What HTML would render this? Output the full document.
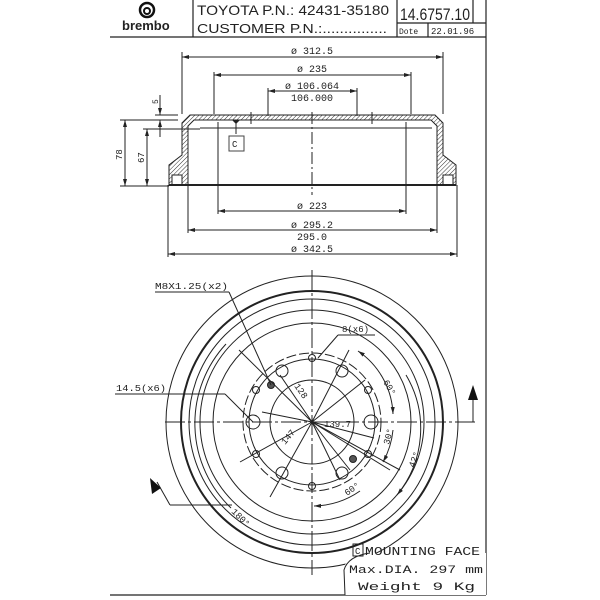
<!DOCTYPE html>
<html><head><style>
html,body{margin:0;padding:0;background:#fff;}
svg{display:block;}
text{font-family:"Liberation Mono","DejaVu Sans Mono",monospace;fill:#222;}
</style></head><body>
<svg width="600" height="600" viewBox="0 0 600 600" xmlns="http://www.w3.org/2000/svg">
<defs>
<pattern id="h" width="3" height="3" patternUnits="userSpaceOnUse" patternTransform="rotate(45)">
<line x1="0" y1="0" x2="0" y2="3" stroke="#333" stroke-width="1"/>
</pattern>
<marker id="a" markerWidth="8" markerHeight="6" refX="7" refY="3" orient="auto"><path d="M0,1 L7,3 L0,5 Z" fill="#222"/></marker>
<marker id="b" markerWidth="8" markerHeight="6" refX="1" refY="3" orient="auto"><path d="M8,1 L1,3 L8,5 Z" fill="#222"/></marker>
</defs>

<!-- header frame -->
<g stroke="#222" fill="none" stroke-width="1.2">
<line x1="110" y1="37" x2="486" y2="37"/>
<line x1="193" y1="0" x2="193" y2="37"/>
<line x1="397" y1="0" x2="397" y2="37"/>
<line x1="473" y1="0" x2="473" y2="23"/>
<line x1="397" y1="23" x2="486" y2="23"/>
<line x1="428" y1="23" x2="428" y2="37"/>
<line x1="486" y1="0" x2="486" y2="595"/>
<line x1="110" y1="595" x2="486" y2="595"/>
</g>
<circle cx="147" cy="10" r="7" fill="none" stroke="#111" stroke-width="2.5"/>
<circle cx="147" cy="11" r="3" fill="none" stroke="#111" stroke-width="2"/>
<text x="122" y="30" font-weight="bold" font-size="13" style="font-family:'Liberation Sans',sans-serif">brembo</text>
<text x="197" y="15" font-size="14" textLength="192" lengthAdjust="spacingAndGlyphs" style="font-family:'Liberation Sans',sans-serif">TOYOTA P.N.: 42431-35180</text>
<text x="197" y="33" font-size="13" textLength="190" lengthAdjust="spacingAndGlyphs" style="font-family:'Liberation Sans',sans-serif">CUSTOMER P.N.:...............</text>
<text x="400" y="20" font-size="17" textLength="70" lengthAdjust="spacingAndGlyphs" style="font-family:'Liberation Sans',sans-serif">14.6757.10</text>
<text x="399" y="34" font-size="8">Dote</text>
<text x="431" y="34" font-size="9">22.01.96</text>

<!-- section view -->
<path d="M190,115 L435,115 L443,123 L443,155 L456,165 L456,185 L437,185 L437,126 L431,120 L194,120 L188,126 L188,185 L169,185 L169,165 L182,155 L182,123 Z" fill="url(#h)" stroke="#222" stroke-width="1"/>
<rect x="172" y="175" width="10" height="10" fill="#fff" stroke="#222"/>
<rect x="443" y="175" width="10" height="10" fill="#fff" stroke="#222"/>
<g stroke="#222" fill="none" stroke-width="1">
<line x1="169" y1="185" x2="456" y2="185" stroke-width="2"/>
<line x1="218" y1="122" x2="218" y2="214"/>
<line x1="406" y1="122" x2="406" y2="214"/>
<line x1="200" y1="128" x2="432" y2="128"/>
<line x1="312" y1="112" x2="312" y2="195" stroke-dasharray="12,3,2,3"/>
<line x1="251" y1="112" x2="251" y2="124"/><line x1="372" y1="112" x2="372" y2="124"/>
<line x1="182" y1="52" x2="182" y2="114"/><line x1="443" y1="52" x2="443" y2="114"/>
<line x1="182" y1="57" x2="443" y2="57" marker-start="url(#b)" marker-end="url(#a)"/>
<line x1="214" y1="72" x2="214" y2="114"/><line x1="411" y1="72" x2="411" y2="114"/>
<line x1="214" y1="75" x2="411" y2="75" marker-start="url(#b)" marker-end="url(#a)"/>
<line x1="268" y1="88" x2="268" y2="116"/><line x1="357" y1="88" x2="357" y2="116"/>
<line x1="268" y1="91" x2="357" y2="91" marker-start="url(#b)" marker-end="url(#a)"/>
<line x1="218" y1="211" x2="406" y2="211" marker-start="url(#b)" marker-end="url(#a)"/>
<line x1="188" y1="185" x2="188" y2="233"/><line x1="437" y1="185" x2="437" y2="233"/>
<line x1="188" y1="230" x2="437" y2="230" marker-start="url(#b)" marker-end="url(#a)"/>
<line x1="168" y1="185" x2="168" y2="257"/><line x1="457" y1="185" x2="457" y2="257"/>
<line x1="168" y1="254" x2="457" y2="254" marker-start="url(#b)" marker-end="url(#a)"/>
<line x1="120" y1="120" x2="178" y2="120"/><line x1="120" y1="186" x2="169" y2="186"/>
<line x1="125" y1="120" x2="125" y2="186" marker-start="url(#b)" marker-end="url(#a)"/>
<line x1="143" y1="129" x2="200" y2="129"/>
<line x1="147" y1="129" x2="147" y2="186" marker-start="url(#b)" marker-end="url(#a)"/>
<line x1="155" y1="115" x2="178" y2="115"/>
<line x1="160" y1="95" x2="160" y2="115" marker-end="url(#a)"/>
<line x1="160" y1="137" x2="160" y2="120" marker-end="url(#a)"/>
<line x1="236" y1="122" x2="236" y2="134"/>
</g>
<path d="M232,120 L240,120 L236,124 Z" fill="#222"/>
<rect x="229" y="136" width="15" height="15" fill="#fff" stroke="#444"/>
<text x="232" y="147" font-size="9">C</text>
<g font-size="10" text-anchor="middle">
<text x="312" y="54">ø 312.5</text>
<text x="312" y="72">ø 235</text>
<text x="312" y="89">ø 106.064</text>
<text x="312" y="101">106.000</text>
<text x="312" y="209">ø 223</text>
<text x="312" y="228">ø 295.2</text>
<text x="312" y="240">295.0</text>
<text x="312" y="252">ø 342.5</text>
</g>
<text font-size="9" transform="translate(122,160) rotate(-90)">78</text>
<text font-size="9" transform="translate(144,163) rotate(-90)">67</text>
<text font-size="8" transform="translate(158,104) rotate(-90)">5</text>

<!-- front view -->
<g stroke="#222" fill="none" stroke-width="1">
<circle cx="312" cy="422" r="146"/>
<circle cx="312" cy="422" r="131" stroke-width="2"/>
<circle cx="312" cy="422" r="123"/>
<circle cx="312" cy="422" r="112"/>
<circle cx="312" cy="422" r="99"/>
<circle cx="312" cy="422" r="69" stroke-dasharray="10,3"/>
<circle cx="312" cy="422" r="63"/>
<circle cx="312" cy="422" r="42"/>
<line x1="312" y1="270" x2="312" y2="575" stroke-dasharray="20,3,3,3"/>
<line x1="165" y1="422" x2="478" y2="422" stroke-dasharray="20,3,3,3"/>
<circle cx="253" cy="422" r="7"/><circle cx="371" cy="422" r="7"/>
<circle cx="282" cy="371" r="6"/><circle cx="342" cy="371" r="6"/>
<circle cx="282" cy="473" r="6"/><circle cx="342" cy="473" r="6"/>
<circle cx="312" cy="358" r="3.5"/><circle cx="312" cy="486" r="3.5"/>
<circle cx="256" cy="390" r="3.5"/><circle cx="368" cy="390" r="3.5"/>
<circle cx="256" cy="454" r="3.5"/><circle cx="368" cy="454" r="3.5"/>
<circle cx="271" cy="385" r="3.5" fill="#555"/><circle cx="353" cy="459" r="3.5" fill="#555"/>
<line x1="312" y1="422" x2="239" y2="350"/>
<line x1="312" y1="422" x2="349" y2="350"/>
<line x1="312" y1="422" x2="365" y2="380"/>
<line x1="312" y1="422" x2="374" y2="438"/>
<line x1="312" y1="422" x2="390" y2="470"/>
<line x1="312" y1="422" x2="400" y2="470"/>
<line x1="312" y1="422" x2="270" y2="497"/>
<line x1="312" y1="422" x2="240" y2="462"/>
<line x1="312" y1="422" x2="262" y2="412"/>
<line x1="312" y1="422" x2="280" y2="375"/>
<line x1="312" y1="422" x2="350" y2="470"/>
<line x1="312" y1="422" x2="340" y2="480"/>
<line x1="155" y1="292" x2="229" y2="292"/>
<line x1="229" y1="292" x2="271" y2="385"/>
<line x1="115" y1="394" x2="225" y2="394"/>
<line x1="225" y1="394" x2="253" y2="422"/>
<line x1="338" y1="335" x2="375" y2="335"/>
<line x1="338" y1="335" x2="318" y2="358"/>
<path d="M358,351 A80,80 0 0 1 393,414" marker-start="url(#b)" marker-end="url(#a)"/>
<path d="M393,430 A82,82 0 0 1 383,462" marker-end="url(#a)"/>
<path d="M406,375 A105,105 0 0 1 397,495" marker-end="url(#a)"/>
<path d="M360,491 A84,84 0 0 1 314,506" marker-end="url(#a)"/>
<path d="M226,344 A117,117 0 0 0 231,508"/>
<line x1="232" y1="505" x2="170" y2="505"/>
<line x1="170" y1="505" x2="157" y2="482"/>
<line x1="473" y1="422" x2="473" y2="400"/>
<line x1="455" y1="422" x2="473" y2="422"/>
</g>
<path d="M473,385 L468,400 L478,400 Z" fill="#111"/>
<path d="M150,478 L152,494 L161,488 Z" fill="#111"/>
<path d="M345,595 L345,565 Q350,553 362,553 L420,553 L420,595 Z" fill="#fff"/>
<rect x="360" y="553" width="126" height="42" fill="#fff"/>
<path d="M345,595 L344,570 Q348,556 370,553" fill="none" stroke="#222"/>
<g font-size="9">
<text x="155" y="289" textLength="73" lengthAdjust="spacingAndGlyphs">M8X1.25(x2)</text>
<text x="116" y="391" textLength="50" lengthAdjust="spacingAndGlyphs">14.5(x6)</text>
<text x="342" y="332">8(x6)</text>
<text x="324" y="427">139.7</text>
<text transform="translate(294,386) rotate(55)">128</text>
<text transform="translate(285,445) rotate(-50)">147</text>
<text transform="translate(383,382) rotate(60)">60°</text>
<text transform="translate(389,445) rotate(-75)">30°</text>
<text transform="translate(414,468) rotate(-70)">42°</text>
<text transform="translate(347,496) rotate(-35)">60°</text>
<text transform="translate(231,512) rotate(45)">180°</text>
</g>
<rect x="353" y="544" width="10" height="12" fill="none" stroke="#222"/>
<text x="355" y="554" font-size="9">C</text>
<text x="365" y="555" font-size="12" textLength="115" lengthAdjust="spacingAndGlyphs">MOUNTING FACE</text>
<text x="349" y="573" font-size="11" textLength="134" lengthAdjust="spacingAndGlyphs">Max.DIA. 297 mm</text>
<text x="358" y="590" font-size="11" textLength="117" lengthAdjust="spacingAndGlyphs">Weight  9  Kg</text>
</svg>
</body></html>
